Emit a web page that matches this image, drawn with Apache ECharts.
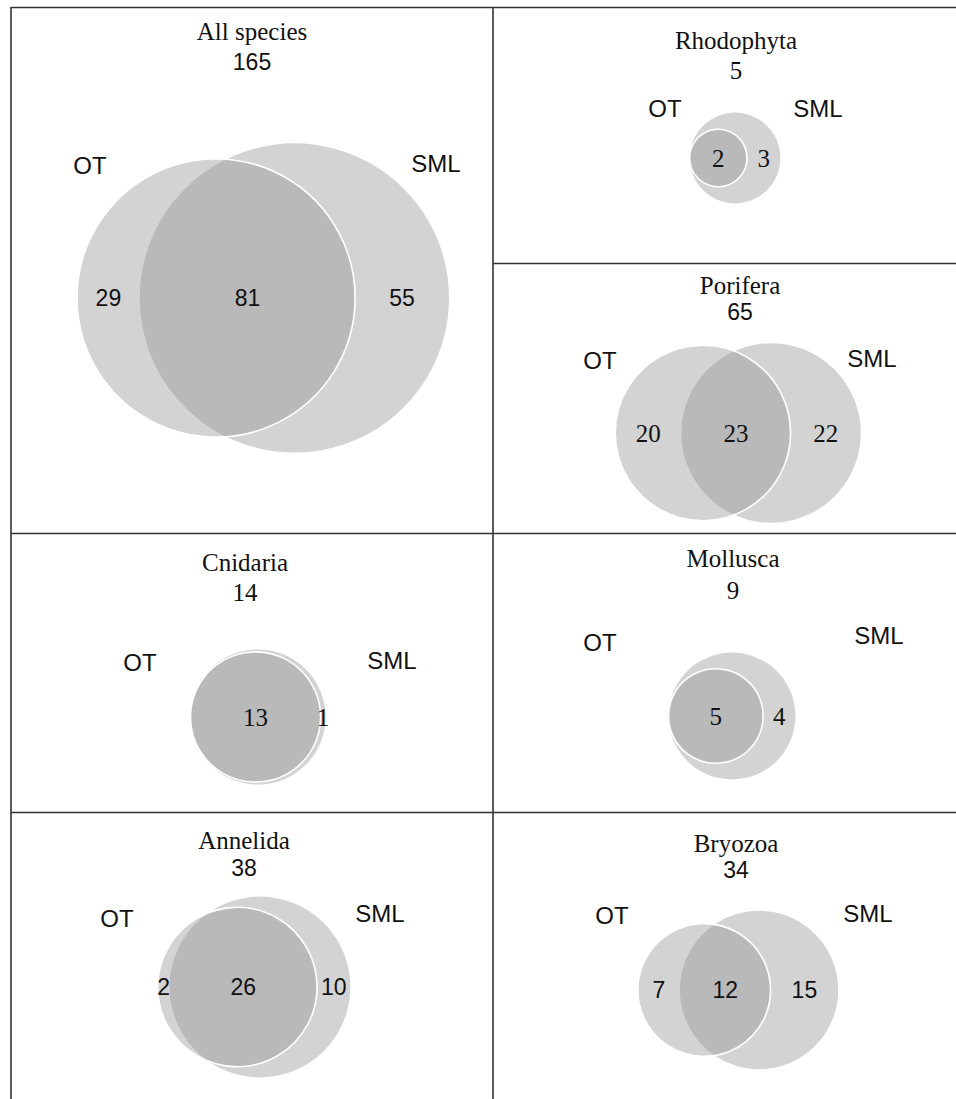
<!DOCTYPE html>
<html><head><meta charset="utf-8">
<script src="https://cdn.jsdelivr.net/npm/echarts@6/dist/echarts.min.js"></script>
<style>html,body{margin:0;padding:0;background:#fff}#c{width:956px;height:1099px}</style>
</head><body><div id="c"></div>
<script>
// ---------- data ----------
const panelNames = ['All species', 'Rhodophyta', 'Porifera', 'Cnidaria', 'Mollusca', 'Annelida', 'Bryozoa'];
const panelTotals = [165, 5, 65, 14, 9, 38, 34];
const otOnly  = [29, 0, 20, 0, 0, 2, 7];
const shared  = [81, 2, 23, 13, 5, 26, 12];
const smlOnly = [55, 3, 22, 1, 4, 10, 15];
const setNames = ['OT', 'SML'];

// ---------- layout / style ----------
const SERIF = '"Liberation Serif","Times New Roman",serif';
const SANS = '"Liberation Sans",Arial,sans-serif';
// cx, cy: pixel centre of the diagram; s: pixels per unit (circle area = count)
const layout = [
  {cx: 263, cy: 298, s: 23.5, tx: 252, ty1: 31, ty2: 62, totalFont: SANS,  numFont: SANS,  ot: [90, 165],  sml: [436, 163]},
  {cx: 735, cy: 158, s: 36,   tx: 736, ty1: 40, ty2: 70, totalFont: SERIF, numFont: SERIF, ot: [665, 108], sml: [818, 108]},
  {cx: 738, cy: 433, s: 23.7, tx: 740, ty1: 285, ty2: 312, totalFont: SANS, numFont: SERIF, ot: [600, 360], sml: [872, 358]},
  {cx: 258, cy: 717, s: 32,   tx: 245, ty1: 562, ty2: 592, totalFont: SERIF, numFont: SERIF, ot: [140, 662], sml: [392, 660]},
  {cx: 732, cy: 716, s: 37.5, tx: 733, ty1: 558, ty2: 590, totalFont: SERIF, numFont: SERIF, ot: [600, 642], sml: [879, 635]},
  {cx: 254, cy: 987, s: 26.7, tx: 244, ty1: 840, ty2: 868, totalFont: SANS, numFont: SANS,  ot: [117, 918], sml: [380, 913]},
  {cx: 738, cy: 990, s: 27,   tx: 736, ty1: 843, ty2: 870, totalFont: SANS, numFont: SANS,  ot: [612, 915], sml: [868, 913]}
];
const HALF = 80; // half size of each panel grid in px (circles may extend past it)
const OT_FILL = 'rgba(150,150,150,0.42)';
const SML_FILL = '#d3d3d3';
const LINE = '#333333';

// ---------- venn geometry ----------
function lensArea(r1, r2, d) {
  if (d >= r1 + r2) return 0;
  if (d <= Math.abs(r1 - r2)) return Math.PI * Math.min(r1, r2) ** 2;
  const a = r1 * r1 * Math.acos((d * d + r1 * r1 - r2 * r2) / (2 * d * r1));
  const b = r2 * r2 * Math.acos((d * d + r2 * r2 - r1 * r1) / (2 * d * r2));
  const c = 0.5 * Math.sqrt((-d + r1 + r2) * (d + r1 - r2) * (d - r1 + r2) * (d + r1 + r2));
  return a + b - c;
}
function vennGeometry(i) {
  const nOT = otOnly[i] + shared[i];
  const nSML = smlOnly[i] + shared[i];
  const r1 = Math.sqrt(nOT / Math.PI);
  const r2 = Math.sqrt(nSML / Math.PI);
  let d;
  if (otOnly[i] === 0) {
    d = Math.abs(r2 - r1);
  } else {
    let lo = Math.abs(r1 - r2), hi = r1 + r2;
    for (let k = 0; k < 60; k++) {
      const mid = (lo + hi) / 2;
      if (lensArea(r1, r2, mid) > shared[i]) lo = mid; else hi = mid;
    }
    d = (lo + hi) / 2;
  }
  // OT at left, SML at right; centre the union's bounding box on 0
  const left = Math.min(-r1, d - r2), right = Math.max(r1, d + r2);
  const shift = (left + right) / 2;
  const ox = -shift, sx = d - shift;
  const labels = [];
  if (otOnly[i] > 0) {
    labels.push({v: otOnly[i], x: ((ox - r1) + (sx - r2)) / 2});
    labels.push({v: shared[i], x: ((sx - r2) + (ox + r1)) / 2});
  } else {
    labels.push({v: shared[i], x: ox});
  }
  if (smlOnly[i] > 0) labels.push({v: smlOnly[i], x: ((ox + r1) + (sx + r2)) / 2});
  return {r1, r2, ox, sx, labels};
}

// ---------- option ----------
const grids = [], xAxes = [], yAxes = [], series = [], graphics = [];
panelNames.forEach((name, i) => {
  const L = layout[i];
  const ext = HALF / L.s;
  grids.push({left: L.cx - HALF, top: L.cy - HALF, width: 2 * HALF, height: 2 * HALF, containLabel: false});
  xAxes.push({type: 'value', gridIndex: i, min: -ext, max: ext, show: false});
  yAxes.push({type: 'value', gridIndex: i, min: -ext, max: ext, show: false});
  const g = vennGeometry(i);
  series.push({
    type: 'custom',
    name: name,
    xAxisIndex: i, yAxisIndex: i,
    clip: false,
    silent: true,
    data: [[0, 0]],
    renderItem: function (params, api) {
      const pO = api.coord([g.ox, 0]);
      const pS = api.coord([g.sx, 0]);
      const unit = api.size([1, 1])[0];
      const children = [
        {type: 'circle', shape: {cx: pS[0], cy: pS[1], r: g.r2 * unit}, style: {fill: SML_FILL}},
        {type: 'circle', shape: {cx: pO[0], cy: pO[1], r: g.r1 * unit}, style: {fill: OT_FILL, stroke: '#ffffff', lineWidth: 1.6}}
      ];
      g.labels.forEach(lb => {
        const p = api.coord([lb.x, 0]);
        children.push({type: 'text', x: p[0], y: p[1], style: {
          text: String(lb.v), fill: '#111', align: 'center', verticalAlign: 'middle',
          fontFamily: L.numFont, fontSize: L.numFont === SERIF ? 25 : 23
        }});
      });
      return {type: 'group', children: children};
    }
  });
  graphics.push({type: 'text', x: L.tx, y: L.ty1, style: {
    text: name, fill: '#111', fontFamily: SERIF, fontSize: 25, align: 'center', verticalAlign: 'middle'}});
  graphics.push({type: 'text', x: L.tx, y: L.ty2, style: {
    text: String(panelTotals[i]), fill: '#111', fontFamily: L.totalFont,
    fontSize: L.totalFont === SERIF ? 25 : 23, align: 'center', verticalAlign: 'middle'}});
  graphics.push({type: 'text', x: L.ot[0], y: L.ot[1], style: {
    text: setNames[0], fill: '#111', fontFamily: SANS, fontSize: 24, align: 'center', verticalAlign: 'middle'}});
  graphics.push({type: 'text', x: L.sml[0], y: L.sml[1], style: {
    text: setNames[1], fill: '#111', fontFamily: SANS, fontSize: 24, align: 'center', verticalAlign: 'middle'}});
});

// panel frame lines
const frame = [
  [11, 7.5, 956, 7.5],
  [11, 7, 11, 1099],
  [493, 7, 493, 1099],
  [493, 263.5, 956, 263.5],
  [11, 533.5, 956, 533.5],
  [11, 812.5, 956, 812.5]
];
frame.forEach(f => graphics.push({type: 'line', shape: {x1: f[0], y1: f[1], x2: f[2], y2: f[3]},
  style: {stroke: LINE, lineWidth: 1.6}, z: 10}));

const chart = echarts.init(document.getElementById('c'), null, {renderer: 'svg', width: 956, height: 1099});
chart.setOption({
  animation: false,
  backgroundColor: '#ffffff',
  grid: grids, xAxis: xAxes, yAxis: yAxes,
  series: series,
  graphic: {elements: graphics}
});
</script></body></html>
